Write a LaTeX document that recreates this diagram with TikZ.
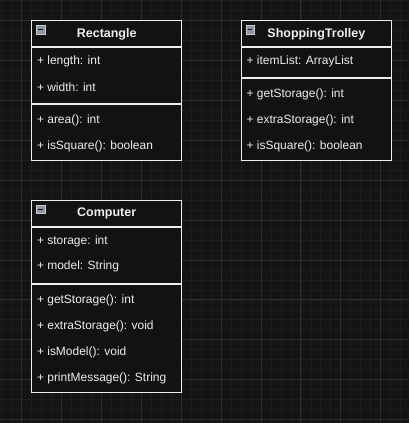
\documentclass[tikz,border=0pt]{standalone}
\usepackage{fontspec}
\setmainfont{Liberation Sans}
\usetikzlibrary{positioning}
\definecolor{canvas}{HTML}{141414}
\definecolor{gridminor}{HTML}{1D1D1D}
\definecolor{gridmajor}{HTML}{2C2C2C}
\definecolor{boxfill}{HTML}{121212}
\definecolor{ink}{HTML}{EEEEEE}
\definecolor{iconfill}{HTML}{8E95A3}

\begin{document}
\begin{tikzpicture}[x=1pt,y=-1pt,
  compart/.style={draw=ink,fill=boxfill,line width=1pt,inner sep=0pt,minimum width=150pt},
  classname/.style={text=ink,font=\fontsize{12.5}{14}\selectfont\bfseries},
  member/.style={text=ink,font=\fontsize{12}{14}\selectfont,anchor=west,inner sep=0pt,yshift=-1pt},
  foldicon/.style={draw=gray!40,fill=iconfill,line width=0.6pt,minimum size=8.5pt,inner sep=0pt}]
            % canvas and grid
            \fill[canvas] (0,0) rectangle (409,423);
            \foreach \gx in {1,11,...,401} \draw[gridminor,line width=0.6pt] (\gx,0)--(\gx,423);
            \foreach \gy in {0,10,...,420} \draw[gridminor,line width=0.6pt] (0,\gy)--(409,\gy);
            \foreach \gx in {21,61,...,381} \draw[gridmajor,line width=0.8pt] (\gx,0)--(\gx,423);
            \foreach \gy in {20,60,...,420} \draw[gridmajor,line width=0.8pt] (0,\gy)--(409,\gy);
            \useasboundingbox (0,0) rectangle (409,423);
            % Rectangle
            \node[compart,minimum height=26pt] (rect-head) at (106.5,33.5) {};
            \node[compart,minimum height=56pt,below=0pt of rect-head] (rect-attrs) {};
            \node[compart,minimum height=56pt,below=0pt of rect-attrs] (rect-ops) {};
            \node[classname] (rect-name) at (rect-head) {Rectangle};
            \node[foldicon] (rect-icon) at (40.5,29.5) {};
            \draw[boxfill,line width=1.2pt] (rect-icon.west)++(2,0)--++(4.5,0);
            \node[member] (rect-a1) at (36.5,60) {+ length: int};
            \node[member] (rect-a2) at (36.5,86) {+ width: int};
            \node[member] (rect-m1) at (36.5,119.5) {+ area(): int};
            \node[member] (rect-m2) at (36.5,145.5) {+ isSquare(): boolean};
            % ShoppingTrolley
            \node[compart,minimum height=26pt] (trol-head) at (316.5,33.5) {};
            \node[compart,minimum height=30pt,below=0pt of trol-head] (trol-attrs) {};
            \node[compart,minimum height=82pt,below=0pt of trol-attrs] (trol-ops) {};
            \node[classname] (trol-name) at (trol-head) {ShoppingTrolley};
            \node[foldicon] (trol-icon) at (250.5,29.5) {};
            \draw[boxfill,line width=1.2pt] (trol-icon.west)++(2,0)--++(4.5,0);
            \node[member] (trol-a1) at (246.5,60) {+ itemList: ArrayList};
            \node[member] (trol-m1) at (246.5,93.5) {+ getStorage(): int};
            \node[member] (trol-m2) at (246.5,119.5) {+ extraStorage(): int};
            \node[member] (trol-m3) at (246.5,145.5) {+ isSquare(): boolean};
            % Computer
            \node[compart,minimum height=26pt] (comp-head) at (106.5,213.5) {};
            \node[compart,minimum height=56pt,below=0pt of comp-head] (comp-attrs) {};
            \node[compart,minimum height=108pt,below=0pt of comp-attrs] (comp-ops) {};
            \node[classname] (comp-name) at (comp-head) {Computer};
            \node[foldicon] (comp-icon) at (40.5,209.5) {};
            \draw[boxfill,line width=1.2pt] (comp-icon.west)++(2,0)--++(4.5,0);
            \node[member] (comp-a1) at (36.5,240) {+ storage: int};
            \node[member] (comp-a2) at (36.5,266) {+ model: String};
            \node[member] (comp-m1) at (36.5,299.5) {+ getStorage(): int};
            \node[member] (comp-m2) at (36.5,325.5) {+ extraStorage(): void};
            \node[member] (comp-m3) at (36.5,351.5) {+ isModel(): void};
            \node[member] (comp-m4) at (36.5,377.5) {+ printMessage(): String};
        \end{tikzpicture}
\end{document}
